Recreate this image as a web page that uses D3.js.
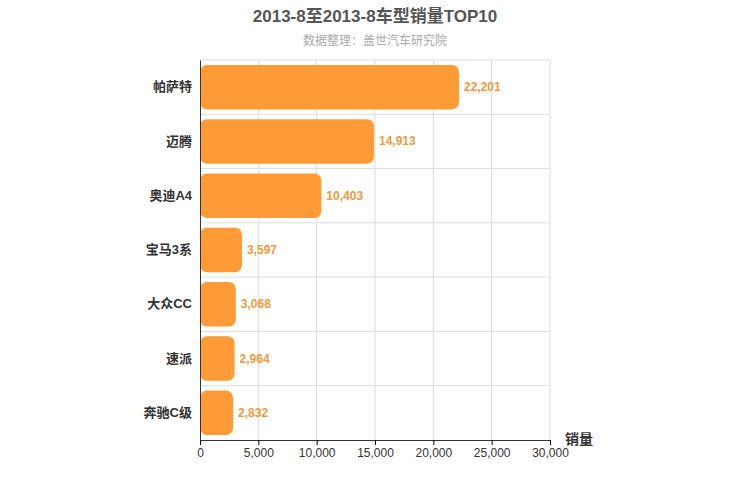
<!DOCTYPE html>
<html><head><meta charset="utf-8">
<script src="https://cdn.jsdelivr.net/npm/d3@7"></script>
<style>body{margin:0;font-family:"Liberation Sans","Noto Sans CJK SC",sans-serif;}</style>
</head><body><svg width="750" height="500"></svg>
<script>
var categories = ["帕萨特","迈腾","奥迪A4","宝马3系","大众CC","速派","奔驰C级"];
var values = [22201,14913,10403,3597,3068,2964,2832];
var xTicks = [0,5000,10000,15000,20000,25000,30000];

var svg = d3.select("svg");
var pLeft = 200, pRight = 550, pTop = 60, pBottom = 440;
var x = d3.scaleLinear().domain([0,30000]).range([pLeft,pRight]);
var y = d3.scaleBand().domain(categories).range([pTop,pBottom]).paddingInner(0.18).paddingOuter(0.09);
var fmt = d3.format(",");
var ff = "'Liberation Sans','Noto Sans CJK SC',sans-serif";

// grid
svg.selectAll(".vg").data(xTicks.slice(1)).enter().append("line")
    .attr("x1",function(d){return x(d);}).attr("x2",function(d){return x(d);})
    .attr("y1",pTop).attr("y2",pBottom).attr("stroke","#ddd");
var step = (pBottom-pTop)/categories.length;
svg.selectAll(".hg").data(d3.range(categories.length)).enter().append("line")
    .attr("x1",pLeft).attr("x2",pRight)
    .attr("y1",function(d){return pTop+d*step;}).attr("y2",function(d){return pTop+d*step;})
    .attr("stroke","#ddd");

// bars
svg.selectAll(".bar").data(values).enter().append("rect")
    .attr("x",pLeft)
    .attr("y",function(d,i){return y(categories[i]);})
    .attr("width",function(d){return x(d)-pLeft;})
    .attr("height",y.bandwidth())
    .attr("rx",7)
    .attr("fill","#ff9b37");
svg.selectAll(".val").data(values).enter().append("text")
    .attr("x",function(d){return x(d)+5;})
    .attr("y",function(d,i){return y(categories[i])+y.bandwidth()/2+4;})
    .attr("fill","#f09a3e").attr("font-size",12).attr("font-weight","bold").attr("font-family",ff)
    .text(function(d){return fmt(d);});

// axes
var xa = svg.append("g").attr("transform","translate(0,"+pBottom+")")
    .call(d3.axisBottom(x).tickValues(xTicks).tickFormat(fmt).tickSize(5));
xa.selectAll("text").attr("font-size",12).attr("fill","#333").attr("font-family",ff);
xa.select(".domain").attr("stroke","#333");
var ya = svg.append("g").attr("transform","translate("+pLeft+",0)")
    .call(d3.axisLeft(y).tickSize(0).tickPadding(8));
ya.selectAll("text").attr("font-size",13).attr("font-weight","bold").attr("fill","#333").attr("font-family",ff);
ya.select(".domain").attr("stroke","#333");

svg.append("text").attr("x",565).attr("y",444).attr("font-size",14).attr("font-weight","bold").attr("fill","#333").attr("font-family",ff).text("销量");
svg.append("text").attr("x",375).attr("y",22).attr("text-anchor","middle").attr("font-size",17).attr("font-weight","bold").attr("fill","#555").attr("font-family",ff).text("2013-8至2013-8车型销量TOP10");
svg.append("text").attr("x",375).attr("y",45).attr("text-anchor","middle").attr("font-size",12).attr("fill","#aaa").attr("font-family",ff).text("数据整理：盖世汽车研究院");
</script></body></html>
